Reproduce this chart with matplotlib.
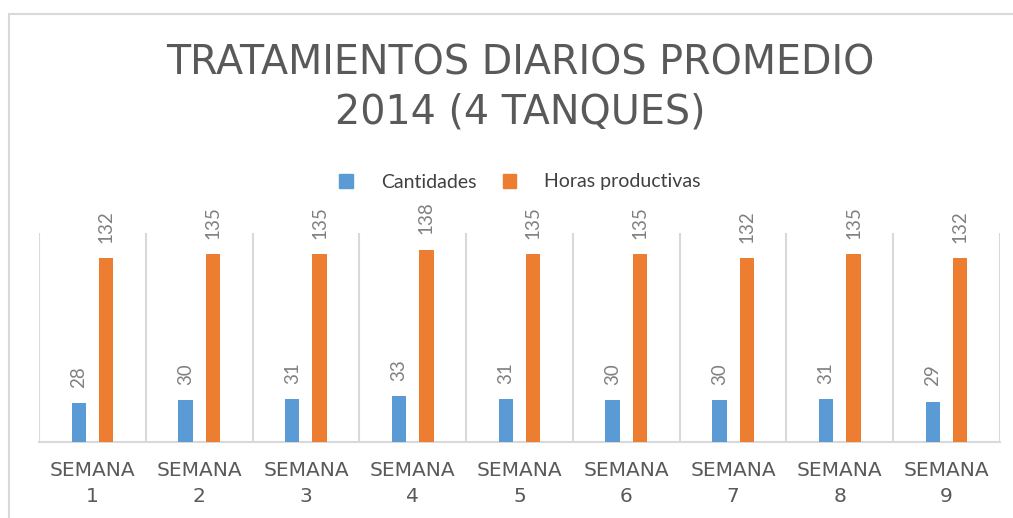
import numpy as np
import matplotlib
matplotlib.use("Agg")
import matplotlib.pyplot as plt
from matplotlib.patches import Rectangle, Patch

# %% DATA
semanas = ["SEMANA\n1", "SEMANA\n2", "SEMANA\n3", "SEMANA\n4", "SEMANA\n5",
           "SEMANA\n6", "SEMANA\n7", "SEMANA\n8", "SEMANA\n9"]
cantidades = [28, 30, 31, 33, 31, 30, 30, 31, 29]
horas_productivas = [132, 135, 135, 138, 135, 135, 132, 135, 132]

title_text = "TRATAMIENTOS DIARIOS PROMEDIO\n2014 (4 TANQUES)"
series_names = ["Cantidades", "Horas productivas"]

# %% STYLE
blue = "#5b9bd5"
orange = "#ed7d31"
grid_grey = "#d9d9d9"
text_grey = "#595959"
label_grey = "#808080"


def main():
    fig = plt.figure(figsize=(10.13, 5.18), dpi=100)

    # chart frame (cut off at right and bottom)
    fig.patches.append(Rectangle((9 / 1013, -0.1), 1.2, 1 - 14 / 518 + 0.1,
                                 transform=fig.transFigure, fill=False,
                                 edgecolor=grid_grey, linewidth=1.5))

    ax = fig.add_axes([39 / 1013, 1 - 442 / 518, (1000 - 39) / 1013, (442 - 233) / 518])

    x = np.arange(len(semanas))
    width = 0.135
    offset = 0.128
    b1 = ax.bar(x - offset, cantidades, width, color=blue, label=series_names[0], zorder=3)
    b2 = ax.bar(x + offset, horas_productivas, width, color=orange, label=series_names[1], zorder=3)

    for bars, vals in ((b1, cantidades), (b2, horas_productivas)):
        for rect, v in zip(bars, vals):
            ax.annotate(str(v), (rect.get_x() + rect.get_width() / 2, rect.get_height()),
                        xytext=(0, 11), textcoords="offset points", rotation=90,
                        ha="center", va="bottom", fontsize=13.5, color=label_grey,
                        family="Lato")

    ax.set_xlim(-0.5, len(semanas) - 0.5)
    ax.set_ylim(0, 150)
    ax.set_yticks([])
    ax.set_xticks(x)
    ax.set_xticklabels(semanas, fontsize=14.5, color=text_grey, linespacing=1.45,
                       family="DejaVu Sans")
    ax.tick_params(axis="x", length=0, pad=14)
    ax.set_xticks(np.arange(len(semanas) + 1) - 0.5, minor=True)
    ax.tick_params(axis="x", which="minor", length=0)
    ax.grid(axis="x", which="minor", color=grid_grey, linewidth=1.5, zorder=0)
    ax.grid(axis="x", which="major", visible=False)
    for side in ("top", "left", "right"):
        ax.spines[side].set_visible(False)
    ax.spines["bottom"].set_color(grid_grey)
    ax.spines["bottom"].set_linewidth(1.5)

    fig.text(0.5135, 1 - 88 / 518, title_text, ha="center", va="center",
             fontsize=28.5, color=text_grey, linespacing=1.3, family="DejaVu Sans")

    handles = [Patch(color=blue), Patch(color=orange)]
    fig.legend(handles, series_names, loc="center", bbox_to_anchor=(520 / 1013, 1 - 182 / 518),
               ncol=2, frameon=False, handlelength=0.7, handleheight=0.7,
               handletextpad=1.45, columnspacing=1.35,
               prop={"family": "Lato", "size": 14}, labelcolor="#404040")

    plt.savefig("out.png", dpi=100)
    return 0


# %% MAIN EXECUTION
if __name__ == "__main__":
    main()
